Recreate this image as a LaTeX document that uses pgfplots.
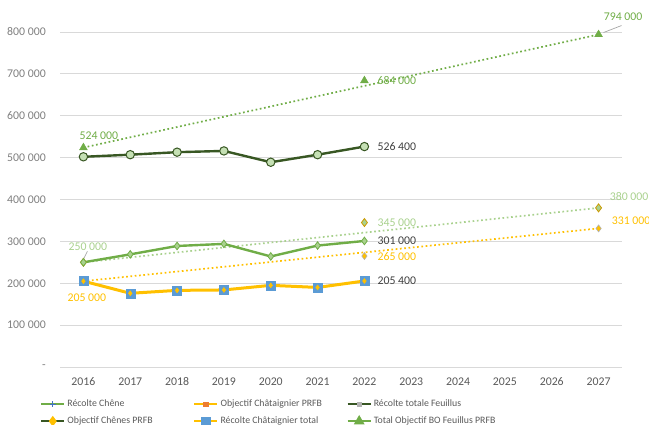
\documentclass[border=0pt]{standalone}
\usepackage{fontspec}
\setmainfont{Carlito}
\usepackage{pgfplots}
\pgfplotsset{compat=1.18}
\definecolor{gA}{HTML}{70AD47}
\definecolor{gL}{HTML}{A9D18E}
\definecolor{gD}{HTML}{385723}
\definecolor{gF}{HTML}{C5E0B4}
\definecolor{yO}{HTML}{FFC000}
\definecolor{bS}{HTML}{5B9BD5}
\definecolor{bP}{HTML}{4472C4}
\definecolor{oR}{HTML}{ED7D31}
\definecolor{grid}{HTML}{D9D9D9}
\definecolor{tickc}{HTML}{7F7F7F}
\definecolor{txt}{HTML}{595959}
\definecolor{lab}{HTML}{404040}
\begin{document}
\begin{tikzpicture}
\path[use as bounding box] (0,0) rectangle (649bp,425bp);
\begin{axis}[
  at={(60bp,58bp)}, anchor=south west,
  scale only axis, width=562bp, height=335bp,
  xmin=2015.5, xmax=2027.5, ymin=0, ymax=800000,
  clip=false,
  axis line style={draw=none}, tick style={draw=none},
  xtick={2016,2017,2018,2019,2020,2021,2022,2023,2024,2025,2026,2027},
  xticklabels={2016,2017,2018,2019,2020,2021,2022,2023,2024,2025,2026,2027},
  ytick={0,100000,200000,300000,400000,500000,600000,700000,800000},
  yticklabels={-\hspace{6bp},100 000,200 000,300 000,400 000,500 000,600 000,700 000,800 000},
  scaled y ticks=false, scaled x ticks=false,
  ymajorgrids, grid style={color=grid, line width=0.9bp},
  xticklabel style={font=\fontsize{11.8bp}{14bp}\selectfont, text=txt, inner sep=0pt, anchor=center, yshift=-15bp},
  yticklabel style={font=\fontsize{11.8bp}{14bp}\selectfont, text=tickc, inner sep=0pt, anchor=east, xshift=-14bp},
  legend columns=3,
  legend cell align=left,
  legend image code/.code={\draw[mark repeat=2,mark phase=2,#1] plot coordinates {(0bp,0bp) (11.5bp,0bp) (23bp,0bp)};},
  legend style={at={(axis description cs:-0.0356,-0.091)}, anchor=north west, draw=none, fill=none, inner sep=0pt,
    column sep=0pt, row sep=4bp, font=\fontsize{9.8bp}{11bp}\selectfont, text=txt,
    nodes={inner sep=2bp, text height=7bp, text depth=2bp, anchor=west}},
]
% legend images
\addlegendimage{color=gA, line width=2.2bp, mark=+, mark size=3bp, mark options={color=bP, line width=1bp}}
\addlegendentry{\makebox[124bp][l]{Récolte Chêne}}
\addlegendimage{color=yO, line width=2.2bp, mark=square*, mark size=1.5bp, mark options={color=oR}}
\addlegendentry{\makebox[124bp][l]{Objectif Châtaignier PRFB}}
\addlegendimage{color=gD, line width=2.2bp, mark=square*, mark size=1.5bp, mark options={color=gray!60}}
\addlegendentry{Récolte totale Feuillus}
\addlegendimage{color=gD, line width=2.2bp, mark=diamond*, mark size=3.5bp, mark options={color=yO}}
\addlegendentry{\makebox[124bp][l]{Objectif Chênes PRFB}}
\addlegendimage{color=yO, line width=2.2bp, mark=square*, mark size=3.5bp, mark options={color=bS}}
\addlegendentry{\makebox[124bp][l]{Récolte Châtaignier total}}
\addlegendimage{color=gA, line width=2.2bp, mark=triangle*, mark size=4bp, mark options={color=gA}}
\addlegendentry{Total Objectif BO Feuillus PRFB}

% dotted objective trend lines
\addplot[forget plot, color=gA, line width=1.7bp, dash pattern=on 1.7bp off 2.6bp] coordinates {(2016,524000) (2027,794000)};
\addplot[forget plot, color=gL, line width=1.7bp, dash pattern=on 1.7bp off 2.6bp] coordinates {(2016,250000) (2027,380000)};
\addplot[forget plot, color=yO, line width=1.7bp, dash pattern=on 1.7bp off 2.6bp] coordinates {(2016,205000) (2027,331000)};

% objective markers
\addplot[forget plot, only marks, mark=triangle*, mark size=4.5bp, mark options={fill=gA, draw=gA}] coordinates {(2016,524000) (2022,684000) (2027,794000)};
\addplot[forget plot, only marks, mark=diamond*, mark size=4bp, mark options={fill=gL, draw=yO!80!black, line width=0.8bp}] coordinates {(2016,250000) (2022,345000) (2027,380000)};
\addplot[forget plot, only marks, mark=diamond*, mark size=3.5bp, mark options={fill=yO, draw=gray!60, line width=0.6bp}] coordinates {(2022,265000) (2027,331000)};

% Récolte Châtaignier total
\addplot[forget plot, color=yO, line width=3bp, mark=square*, mark size=4.5bp, mark options={fill=bS, draw=bS, line width=0.5bp}] coordinates {
(2016,205000) (2017,176000) (2018,183000) (2019,184000) (2020,195000) (2021,190000) (2022,205400)};
\addplot[forget plot, only marks, mark=diamond*, mark size=2.5bp, mark options={fill=yO, draw=yO}] coordinates {
(2016,205000) (2017,176000) (2018,183000) (2019,184000) (2020,195000) (2021,190000) (2022,205400)};

% Récolte Chêne
\addplot[forget plot, color=gA, line width=2.4bp, mark=diamond*, mark size=3.8bp, mark options={fill=gL, draw=gA, line width=0.8bp}] coordinates {
(2016,250000) (2017,269000) (2018,289000) (2019,294000) (2020,264000) (2021,290000) (2022,301000)};

% Récolte totale Feuillus
\addplot[forget plot, color=gD, line width=2.4bp, mark=*, mark size=4.2bp, mark options={fill=gF, draw=gD, line width=1bp}] coordinates {
(2016,502000) (2017,507000) (2018,513000) (2019,516000) (2020,489000) (2021,507000) (2022,526400)};

% data labels
\begin{scope}[every node/.style={font=\fontsize{11.8bp}{14bp}\selectfont, inner sep=0pt, anchor=west}]
\node[text=gA] at (axis cs:2016,524000) [xshift=-4bp, yshift=12bp] {524 000};
\node[text=gA] at (axis cs:2022,684000) [xshift=13bp] {684 000};
\node[text=gA] at (axis cs:2027,794000) [xshift=5bp, yshift=18bp] {794 000};
\draw[gray!70, line width=0.7bp] (axis cs:2027,794000) ++(5bp,2bp) -- ++(18bp,7bp);
\node[text=gL] at (axis cs:2016,250000) [xshift=-15bp, yshift=16bp] {250 000};
\draw[gray!70, line width=0.7bp] (axis cs:2016,250000) ++(0bp,3bp) -- ++(4bp,8bp);
\node[text=gL] at (axis cs:2022,345000) [xshift=13bp] {345 000};
\node[text=gL] at (axis cs:2027,380000) [xshift=11bp, yshift=11bp] {380 000};
\node[text=lab] at (axis cs:2022,301000) [xshift=13bp] {301 000};
\node[text=yO] at (axis cs:2022,265000) [xshift=13bp, yshift=-1bp] {265 000};
\node[text=yO] at (axis cs:2027,331000) [xshift=13bp, yshift=8bp] {331 000};
\node[text=yO] at (axis cs:2016,205000) [xshift=-16bp, yshift=-17bp] {205 000};
\node[text=lab] at (axis cs:2022,205400) [xshift=13bp] {205 400};
\node[text=lab] at (axis cs:2022,526400) [xshift=13bp] {526 400};
\end{scope}
\end{axis}
\end{tikzpicture}
\end{document}
